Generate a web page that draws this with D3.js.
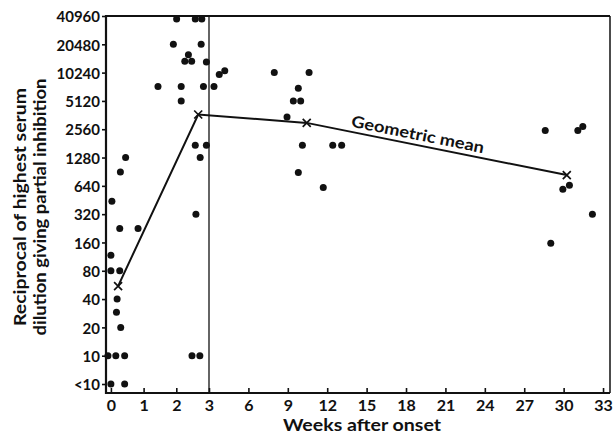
<!DOCTYPE html>
<html><head><meta charset="utf-8">
<script src="https://cdn.jsdelivr.net/npm/d3@7"></script>
<style>
body{margin:0;background:#fff}
text{font-family:Lato,"Open Sans",sans-serif;fill:#111;font-weight:bold}
</style>
</head><body>
<svg id="c" width="613" height="436"></svg>
<script>
// ---- data (weeks after onset, reciprocal titre; "<10" plotted at 5) ----
const obsWeeks = [
  -0.09, 0.15, 0.42, 0.0, 0.42, 0.30, 0.17, 0.19, 0.0, 0.27, 0.0, 0.27, 0.83,
  0.03, 0.29, 0.45, 1.44,
  2.01, 2.58, 2.78, 1.91, 2.76, 2.37, 2.26, 2.47, 2.92, 2.15, 2.83, 2.15,
  2.58, 2.92, 2.73, 2.60, 2.48, 2.72,
  3.38, 3.78, 4.20,
  7.97, 10.62, 9.80, 9.42, 9.98, 8.94, 10.11, 12.42, 13.10, 9.80, 11.70,
  28.60, 31.08, 31.46, 30.44, 29.94, 32.19, 29.02
];
const obsTitre = [
  10, 10, 10, 5, 5, 20, 29, 40, 80, 80, 117, 225, 225,
  440, 900, 1280, 7300,
  38000, 38000, 38000, 20480, 20480, 15900, 13500, 13500, 13300, 7300, 7300, 5120,
  1730, 1730, 1280, 320, 10, 10,
  7300, 9750, 10750,
  10240, 10240, 6970, 5120, 5120, 3460, 1730, 1730, 1730, 885, 615,
  2480, 2480, 2740, 650, 590, 320, 157
];
const meanWeeks = [0.22, 2.67, 10.44, 30.24];
const meanTitre = [55, 3670, 2990, 833];
const xTicks = [0, 1, 2, 3, 6, 9, 12, 15, 18, 21, 24, 27, 30, 33];
const yTicks = [5, 10, 20, 40, 80, 160, 320, 640, 1280, 2560, 5120, 10240, 20480, 40960];
const yTickLabels = ["<10", "10", "20", "40", "80", "160", "320", "640", "1280", "2560", "5120", "10240", "20480", "40960"];
const xTitle = "Weeks after onset";
const yTitle = ["Reciprocal of highest serum", "dilution giving partial inhibition"];
const meanLabel = "Geometric mean";

// ---- layout ----
const W = 613, H = 436;
const m = {left: 106, right: 3, top: 16, bottom: 43};
const L = m.left, R = W - m.right, T = m.top, B = H - m.bottom;
const svg = d3.select("#c");

const x = d3.scaleLinear().domain([-0.15, 3, 33.53]).range([L, L + 103, R]);
const y = d3.scaleLog().base(2).domain([5 / Math.pow(2, 0.318), 40960]).range([B, T]);

// axes
const xa = svg.append("g").attr("transform", `translate(0,${B})`)
  .call(d3.axisBottom(x).tickValues(xTicks).tickFormat(d3.format("d"))
    .tickSizeInner(-5).tickSizeOuter(0).tickPadding(7));
xa.select(".domain").remove();
xa.selectAll("line").attr("stroke", "#111").attr("stroke-width", 1.6);
xa.selectAll("text").style("font-size", "16px").attr("fill", "#111");

const ya = svg.append("g").attr("transform", `translate(${L},0)`)
  .call(d3.axisLeft(y).tickValues(yTicks).tickFormat((d, i) => yTickLabels[i])
    .tickSizeInner(4).tickSizeOuter(0).tickPadding(2));
ya.select(".domain").remove();
ya.selectAll("line").attr("stroke", "#111").attr("stroke-width", 1.6);
ya.selectAll("text").style("font-size", "15px").attr("fill", "#111").attr("dy", "0.38em");

// frame
const frame = svg.append("g").attr("stroke", "#111").attr("fill", "none");
frame.append("line").attr("x1", L).attr("x2", L).attr("y1", T - 1).attr("y2", B + 1).attr("stroke-width", 2.2);
frame.append("line").attr("x1", L).attr("x2", R).attr("y1", B).attr("y2", B).attr("stroke-width", 2.2);
frame.append("line").attr("x1", L).attr("x2", R).attr("y1", T).attr("y2", T).attr("stroke-width", 2.2);
frame.append("line").attr("x1", R).attr("x2", R).attr("y1", T).attr("y2", B).attr("stroke-width", 1.5);
// break line at 3 weeks
frame.append("line").attr("x1", x(3)).attr("x2", x(3)).attr("y1", T).attr("y2", B).attr("stroke-width", 1.3);

// observations
svg.append("g").selectAll("circle").data(obsWeeks).join("circle")
  .attr("cx", (d) => x(d)).attr("cy", (d, i) => y(obsTitre[i]))
  .attr("r", 3.5).attr("fill", "#111");

// geometric mean line
const pts = meanWeeks.map((w, i) => [x(w), y(meanTitre[i])]);
svg.append("path").attr("d", d3.line()(pts)).attr("fill", "none")
  .attr("stroke", "#111").attr("stroke-width", 2);
svg.append("g").selectAll("path").data(pts).join("path")
  .attr("transform", (p) => `translate(${p[0]},${p[1]})`)
  .attr("d", "M-4,-4L4,4M-4,4L4,-4").attr("stroke", "#111").attr("stroke-width", 1.7).attr("fill", "none");

// label along last segment
const p2 = pts[2], p3 = pts[3];
const ang = Math.atan2(p3[1] - p2[1], p3[0] - p2[0]);
const t0 = 0.165;
const sx = p2[0] + (p3[0] - p2[0]) * t0, sy = p2[1] + (p3[1] - p2[1]) * t0;
svg.append("text")
  .attr("transform", `translate(${sx},${sy}) rotate(${ang * 180 / Math.PI}) translate(0,-5)`)
  .attr("text-anchor", "start").style("font-size", "16px")
  .attr("textLength", 135).attr("lengthAdjust", "spacingAndGlyphs")
  .text(meanLabel);

// titles
svg.append("text").attr("x", 362).attr("y", 431)
  .attr("text-anchor", "middle").style("font-size", "17px")
  .attr("textLength", 158).attr("lengthAdjust", "spacingAndGlyphs").text(xTitle);
const yLen = [238, 257];
yTitle.forEach((s, i) => {
  svg.append("text")
    .attr("transform", `translate(${26 + i * 20},207) rotate(-90)`)
    .attr("text-anchor", "middle").style("font-size", "17px")
    .attr("textLength", yLen[i]).attr("lengthAdjust", "spacingAndGlyphs").text(s);
});
</script>
</body></html>
